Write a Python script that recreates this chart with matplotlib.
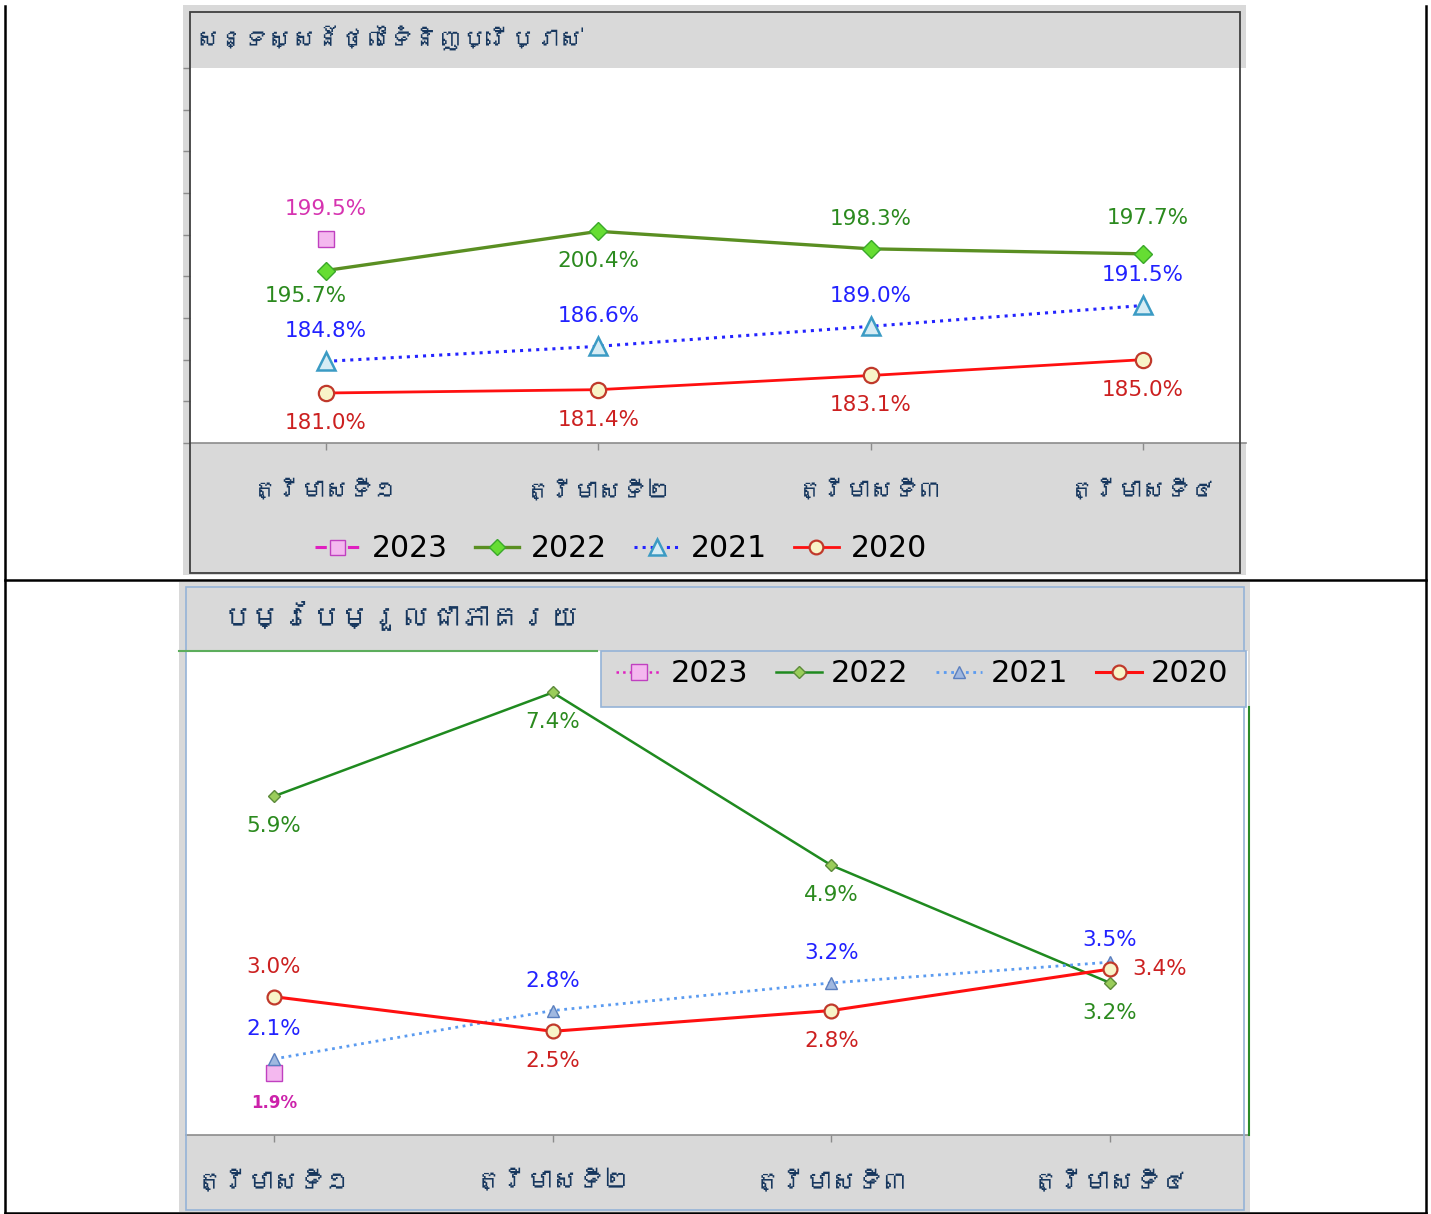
import matplotlib
matplotlib.use("Agg")
import matplotlib.pyplot as plt
from matplotlib import font_manager
from matplotlib.patches import Rectangle
from matplotlib.lines import Line2D

# === Veri ===

quarters = ["ត្រីមាសទី១", "ត្រីមាសទី២", "ត្រីមាសទី៣", "ត្រីមាសទី៤"]
title_cpi = "សន្ទស្សន៍ថ្លៃទំនិញប្រើប្រាស់"
title_chg = "បម្រែបម្រួលជាភាគរយ"
years = ["2023", "2022", "2021", "2020"]

cpi_2023 = [199.5]
cpi_2022 = [195.7, 200.4, 198.3, 197.7]
cpi_2021 = [184.8, 186.6, 189.0, 191.5]
cpi_2020 = [181.0, 181.4, 183.1, 185.0]

chg_2023 = [1.9]
chg_2022 = [5.9, 7.4, 4.9, 3.2]
chg_2021 = [2.1, 2.8, 3.2, 3.5]
chg_2020 = [3.0, 2.5, 2.8, 3.4]

# where each data label sits relative to its point
cpi_where = [["above"],
             ["below_left", "below", "above", "above_hi"],
             ["above", "above", "above", "above"],
             ["below", "below", "below", "below"]]
chg_where = [["below"],
             ["below", "below", "below", "below"],
             ["above", "above", "above", "above_lo"],
             ["above", "below", "below", "right"]]

OFFSETS = {"above": (0, 30), "above_hi": (5, 36), "above_lo": (0, 22),
           "below": (0, -30), "below_left": (-20, -25), "right": (22, 0)}

W, H = 1431, 1214
NAVY = "#17375e"
GRAY_BG = "#d9d9d9"


# === Khmer font (if any installed) ===

def find_khmer_font():
    try:
        from fontTools.ttLib import TTFont
    except ImportError:
        return None
    for f in font_manager.fontManager.ttflist:
        if "CJK" in f.name:
            continue
        try:
            tt = TTFont(f.fname, fontNumber=0, lazy=True)
            cmap = tt.getBestCmap()
            if cmap and 0x1780 in cmap:
                return f.name
        except Exception:
            pass
    return None


khmer = find_khmer_font()
KH_FAMILY = [khmer, "DejaVu Sans"] if khmer else ["DejaVu Sans"]
plt.rcParams["font.family"] = ["DejaVu Sans"]

fig = plt.figure(figsize=(W / 100, H / 100), dpi=100)


def box(x0, y0, x1, y1):
    return [x0 / W, 1 - y1 / H, (x1 - x0) / W, (y1 - y0) / H]


def rect(x0, y0, x1, y1, **kw):
    fig.add_artist(Rectangle((x0 / W, 1 - y1 / H), (x1 - x0) / W, (y1 - y0) / H,
                             transform=fig.transFigure, **kw))


def line(x0, y0, x1, y1, **kw):
    fig.add_artist(Line2D([x0 / W, x1 / W], [1 - y0 / H, 1 - y1 / H],
                          transform=fig.transFigure, **kw))


def add_labels(ax, values, where, color, size, weight="normal"):
    for i, v in enumerate(values):
        dx, dy = OFFSETS[where[i]]
        ha = "left" if where[i] == "right" else "center"
        ax.annotate(f"{v:.1f}%", (i, v), xytext=(dx, dy), textcoords="offset pixels",
                    ha=ha, va="center", color=color, fontsize=size, fontweight=weight,
                    zorder=6)


# === Table lines ===
for xx in (5, 1426):
    line(xx, 6, xx, 1213, color="black", lw=1.8)
line(5, 580, 1426, 580, color="black", lw=1.8)
line(5, 1213, 1426, 1213, color="black", lw=1.8)

# === Top chart: CPI ===
rect(183, 5, 1246, 575, facecolor=GRAY_BG, edgecolor="none", zorder=-2)
ax1 = fig.add_axes(box(190, 68, 1246, 443))
ax1.set_facecolor("white")
ax1.set_xlim(-0.4995, 3.379)
ax1.set_ylim(175, 220)

top_series = [
    (cpi_2023, dict(color="#e020c0", ls="--", lw=2.2, marker="s", ms=12,
                    mfc="#f4b8ef", mec="#c040c0"), "#d633b0"),
    (cpi_2022, dict(color="#5a8f22", ls="-", lw=2.4, marker="D", ms=9.5,
                    mfc="#66dd33", mec="#3aa82a"), "#2b8a1e"),
    (cpi_2021, dict(color="#2424ff", ls=":", lw=2.2, marker="^", ms=13,
                    mfc="#d6ecf4", mec="#3b9bc4", mew=1.8), "#2222ff"),
    (cpi_2020, dict(color="#ff1010", ls="-", lw=2.0, marker="o", ms=11,
                    mfc="#f8f4c8", mec="#c0392b", mew=1.6), "#cc2020"),
]
for k, (vals, style, lab_color) in enumerate(top_series):
    ax1.plot(range(len(vals)), vals, label=years[k], zorder=4, **style)
    add_labels(ax1, vals, cpi_where[k], lab_color, 15.5)

for s in ("top", "right", "left"):
    ax1.spines[s].set_visible(False)
ax1.spines["bottom"].set_color("#8c8c8c")
ax1.spines["bottom"].set_linewidth(1.2)
ax1.set_yticks(range(175, 221, 5))
ax1.set_yticklabels([])
ax1.set_xticks(range(4))
ax1.set_xticklabels(quarters, family=KH_FAMILY, fontsize=17.5, color=NAVY)
ax1.tick_params(axis="x", length=5, width=1, color="#8c8c8c", pad=21)
ax1.tick_params(axis="y", length=5, width=1, color="#8c8c8c")

# frame of the chart area
rect(190, 12, 1240, 573, facecolor="none", edgecolor="#404040", lw=1.3, zorder=5)
fig.text(195 / W, 1 - 38 / H, title_cpi, family=KH_FAMILY, fontsize=17.5,
         color=NAVY, ha="left", va="center")

ax1.legend(loc="center", bbox_to_anchor=(621 / W, 1 - 549 / H),
           bbox_transform=fig.transFigure, ncol=4, frameon=False, fontsize=21.5,
           handlelength=1.5, handletextpad=0.4, columnspacing=0.9, markerscale=0.9)

# === Bottom chart: percent change ===
rect(179, 582, 1250, 1212, facecolor=GRAY_BG, edgecolor="none", zorder=-2)
ax2 = fig.add_axes(box(186, 651, 1248, 1135))
ax2.set_facecolor("white")
ax2.set_xlim(-0.316, 3.495)
ax2.set_ylim(1, 8)

bottom_series = [
    (chg_2023, dict(color="#e020c0", ls=":", lw=1.8, marker="s", ms=11,
                    mfc="#f4b8ef", mec="#c040c0"), "#cc22aa", 12, "bold"),
    (chg_2022, dict(color="#1f8a1f", ls="-", lw=1.8, marker="D", ms=6.5,
                    mfc="#9acd5a", mec="#5c8a3a"), "#2b8a1e", 15.5, "normal"),
    (chg_2021, dict(color="#5b9bf0", ls=":", lw=2.0, marker="^", ms=9,
                    mfc="#a0b8e0", mec="#5a7fbf"), "#2222ff", 15.5, "normal"),
    (chg_2020, dict(color="#ff1010", ls="-", lw=2.2, marker="o", ms=10,
                    mfc="#f8f4c8", mec="#c0392b", mew=1.6), "#cc2020", 15.5, "normal"),
]
for k, (vals, style, lab_color, size, weight) in enumerate(bottom_series):
    ax2.plot(range(len(vals)), vals, label=years[k], zorder=4, **style)
    add_labels(ax2, vals, chg_where[k], lab_color, size, weight)

for s in ("top", "right", "left"):
    ax2.spines[s].set_visible(False)
ax2.spines["bottom"].set_color("#8c8c8c")
ax2.spines["bottom"].set_linewidth(1.2)
ax2.set_yticks([])
ax2.set_xticks(range(4))
ax2.set_xticklabels(quarters, family=KH_FAMILY, fontsize=18.5, color=NAVY)
ax2.tick_params(axis="x", length=5, width=1, color="#8c8c8c", pad=20)

rect(186, 587, 1244, 1210, facecolor="none", edgecolor="#95b3d7", lw=1.2, zorder=5)
line(179, 651, 597, 651, color="#5cad5c", lw=1.5, zorder=5)
line(1249, 707, 1249, 1135, color="#2a8a2a", lw=1.5, zorder=5)
rect(601, 651, 1246, 707, facecolor=GRAY_BG, edgecolor="#95b3d7", lw=1.2, zorder=5)
fig.text(222 / W, 1 - 615 / H, title_chg, family=KH_FAMILY, fontsize=21.5,
         color=NAVY, ha="left", va="center")

handles, labels = ax2.get_legend_handles_labels()
leg2 = fig.legend(handles, labels, loc="center", bbox_to_anchor=(922 / W, 1 - 674 / H),
                  ncol=4, frameon=False, fontsize=22,
                  handlelength=1.5, handletextpad=0.3, columnspacing=0.9)
leg2.set_zorder(7)

fig.savefig("out.png", dpi=100)
